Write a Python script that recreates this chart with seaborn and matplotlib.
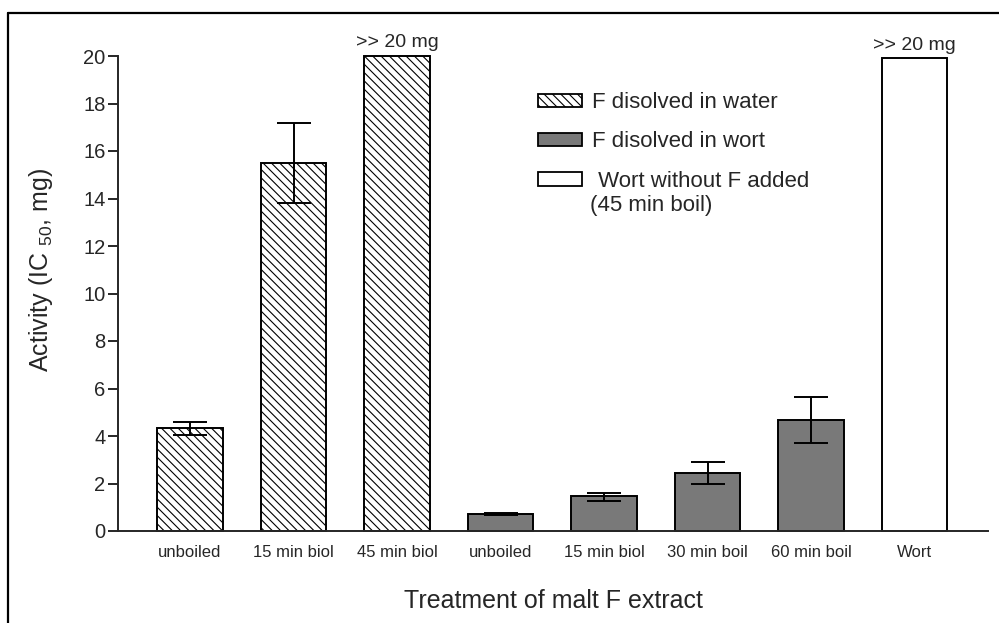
import numpy as np
import pandas as pd
import matplotlib.pyplot as plt
import seaborn as sns
from matplotlib.patches import Patch
from matplotlib.lines import Line2D

# ---- data ----
treatments = ['unboiled', '15 min biol', '45 min biol', 'unboiled',
              '15 min biol', '30 min boil', '60 min boil', 'Wort']
groups = ['water', 'water', 'water', 'wort', 'wort', 'wort', 'wort', 'plain']
activity = [4.32, 15.5, 20.0, 0.73, 1.46, 2.45, 4.67, 19.9]
err_low = [4.03, 13.8, np.nan, 0.68, 1.28, 1.97, 3.72, np.nan]
err_high = [4.6, 17.2, np.nan, 0.77, 1.62, 2.92, 5.65, np.nan]
over_labels = ['', '', '>> 20 mg', '', '', '', '', '>> 20 mg']
legend_labels = ['F disolved in water', 'F disolved in wort', ' Wort without F added']

df = pd.DataFrame({
    'key': [str(i) for i in range(len(treatments))],
    'treatment': treatments,
    'group': groups,
    'activity': activity,
    'lo': err_low,
    'hi': err_high,
})

# ---- style ----
sns.set_style('ticks')
plt.rcParams['font.family'] = ['Liberation Sans', 'DejaVu Sans']
plt.rcParams['mathtext.fontset'] = 'custom'
plt.rcParams['mathtext.rm'] = 'Liberation Sans'
plt.rcParams['mathtext.default'] = 'regular'
plt.rcParams['hatch.linewidth'] = 0.8
plt.rcParams['hatch.color'] = 'black'

dark = '#797979'
palette = {'water': 'white', 'wort': dark, 'plain': 'white'}

fig = plt.figure(figsize=(9.99, 6.23), dpi=100)
ax = fig.add_axes([118 / 999, 92 / 623, 870 / 999, 475 / 623])

sns.barplot(data=df, x='key', y='activity', hue='group', order=df['key'],
            hue_order=['water', 'wort', 'plain'], palette=palette,
            dodge=False, width=0.63, edgecolor='black', linewidth=1.4,
            errorbar=None, legend=False, ax=ax)

# hatch the water bars
for bar in ax.containers[0]:
    bar.set_hatch('\\\\\\\\')
for cont in ax.containers:
    for bar in cont:
        bar.set_clip_on(False)

# error bars
for i, row in df.iterrows():
    if np.isnan(row['lo']):
        continue
    ax.errorbar(i, row['activity'],
                yerr=[[row['activity'] - row['lo']], [row['hi'] - row['activity']]],
                fmt='none', ecolor='black', elinewidth=1.4, capsize=12,
                capthick=1.4, zorder=5)

# ">> 20 mg" notes
for i, txt in enumerate(over_labels):
    if txt:
        ax.annotate(txt, (i, activity[i]), xytext=(0, 3.5), textcoords='offset points',
                    ha='center', va='bottom', fontsize=14, annotation_clip=False)

ax.set_ylim(0, 20)
ax.set_xlim(-0.696, 7.71)
ax.set_yticks(range(0, 21, 2))
ax.set_xticks(range(len(treatments)))
ax.set_xticklabels(treatments, fontsize=12)
ax.tick_params(axis='x', length=0, pad=10)
ax.tick_params(axis='y', length=7, width=1.4, labelsize=14.5, pad=2)
for s in ['top', 'right']:
    ax.spines[s].set_visible(False)
for s in ['left', 'bottom']:
    ax.spines[s].set_linewidth(1.4)

ax.set_xlabel('Treatment of malt F extract', fontsize=18, labelpad=21)
ax.set_ylabel('Activity (IC $_{50}$, mg)', fontsize=18)
ax.yaxis.set_label_coords(-0.072, 0.549)

# legend
handles = [
    Patch(facecolor='white', edgecolor='black', hatch='\\\\\\\\', linewidth=1.3),
    Patch(facecolor=dark, edgecolor='black', linewidth=1.3),
    Patch(facecolor='white', edgecolor='black', linewidth=1.3),
]
ax.legend(handles, legend_labels, loc='upper left',
          bbox_to_anchor=(538 / 999, 1 - 92 / 623), bbox_transform=fig.transFigure,
          frameon=False, fontsize=16, handlelength=1.98, handleheight=0.54,
          handletextpad=0.45, labelspacing=0.83, borderpad=0, borderaxespad=0)
fig.text(590 / 999, 1 - 206 / 623, '(45 min boil)', fontsize=16, va='center')

# outer frame (left and top edges visible)
fig.add_artist(Line2D([8 / 999, 8 / 999], [0, 1 - 13 / 623],
                      transform=fig.transFigure, color='black', lw=1.6))
fig.add_artist(Line2D([8 / 999, 1], [1 - 13 / 623, 1 - 13 / 623],
                      transform=fig.transFigure, color='black', lw=1.6))

fig.savefig('out.png', dpi=100)
